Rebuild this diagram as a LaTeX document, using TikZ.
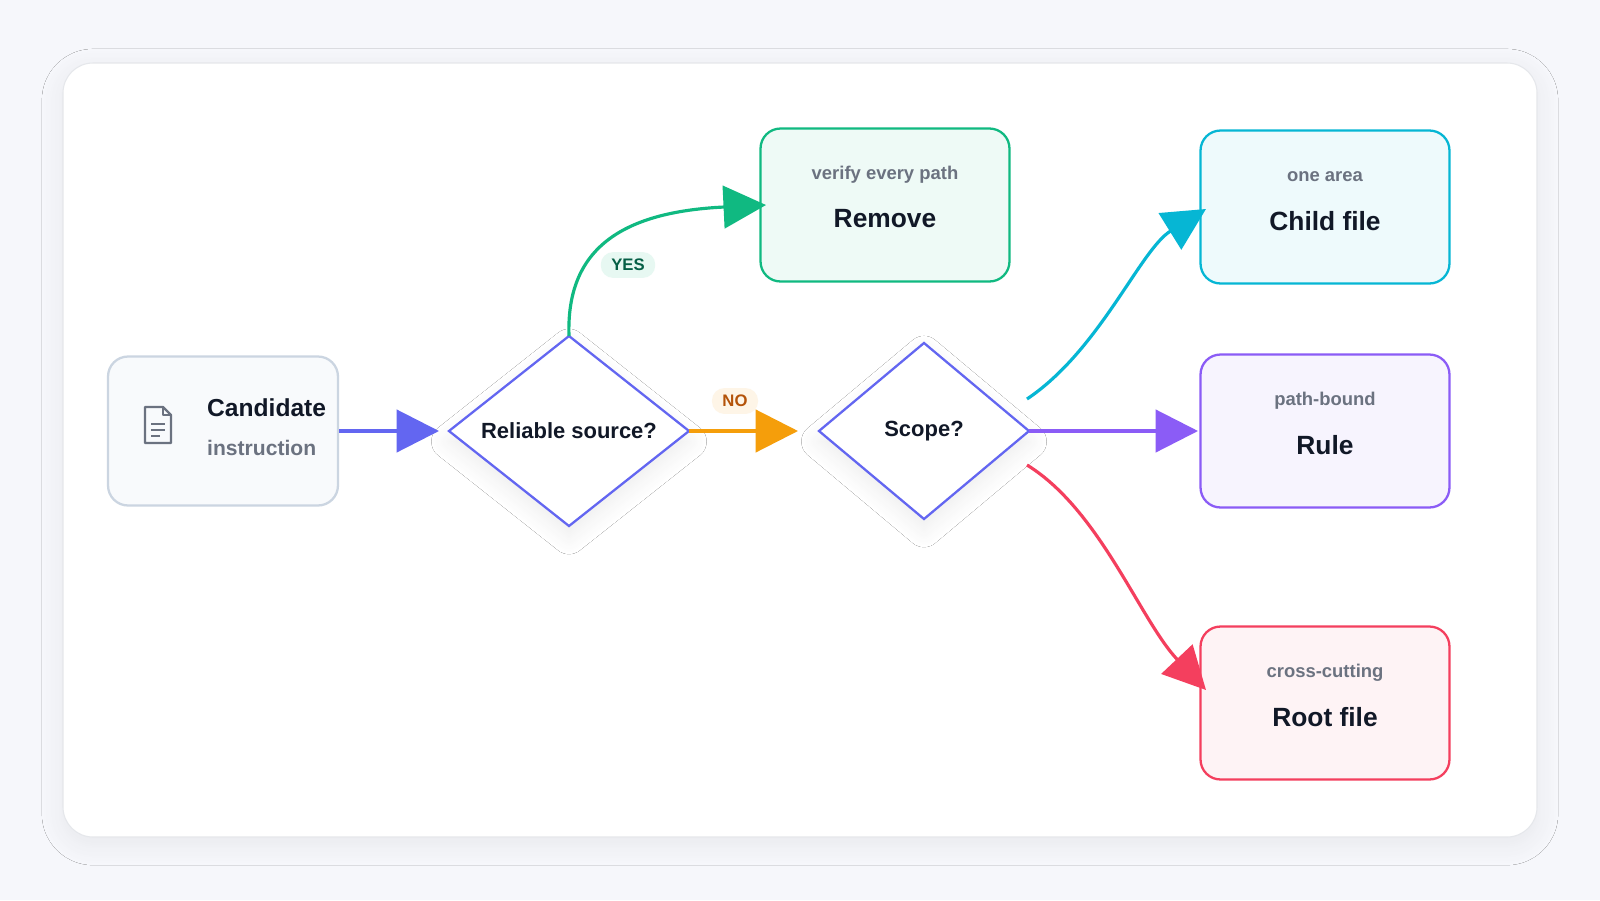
\documentclass[tikz,border=0pt]{standalone}
\usepackage{fontspec}
\setmainfont{Liberation Sans}
\usetikzlibrary{arrows.meta,shapes.geometric,shadows.blur}
\definecolor{ind}{HTML}{6366F1}
\definecolor{grn}{HTML}{10B981}
\definecolor{amb}{HTML}{F59E0B}
\definecolor{cya}{HTML}{06B6D4}
\definecolor{pur}{HTML}{8B5CF6}
\definecolor{ros}{HTML}{F43F5E}
\definecolor{sub}{HTML}{6B7280}
\definecolor{ttl}{HTML}{111827}
\definecolor{bg}{HTML}{F6F7FB}
\definecolor{edge}{HTML}{E5E7EB}
\definecolor{slb}{HTML}{CBD5E1}
\definecolor{slf}{HTML}{F8FAFC}
\definecolor{yest}{HTML}{065F46}
\definecolor{not}{HTML}{B45309}
\begin{document}
\begin{tikzpicture}[x=0.02cm,y=-0.02cm,
  box/.style={draw,rounded corners=0.4cm,line width=1.3pt,minimum width=4.98cm,minimum height=3.06cm,align=center,inner sep=0pt},
  dia/.style={draw=ind,line width=1.3pt,fill=white,line join=miter,blur shadow={shadow blur steps=12,shadow blur radius=10pt,shadow xshift=0pt,shadow yshift=-6pt,shadow opacity=7}},
  dtxt/.style={font=\bfseries\fontsize{12.5}{14}\selectfont,text=ttl},
  arr/.style={line width=1.8pt,-{Triangle[length=0.85cm,width=0.85cm]}},
  sb/.style={font=\bfseries\fontsize{10.5}{12}\selectfont,text=sub},
  tt/.style={font=\bfseries\fontsize{15}{17}\selectfont,text=ttl},
  pill/.style={rounded corners=0.25cm,inner xsep=6pt,inner ysep=4pt,font=\bfseries\fontsize{9.5}{11}\selectfont}]
\useasboundingbox (0,0) rectangle (1600,900);
\fill[bg] (0,0) rectangle (1600,900);
\fill[white,rounded corners=0.6cm,blur shadow={shadow blur steps=12,shadow blur radius=12pt,shadow xshift=0pt,shadow yshift=-4pt,shadow opacity=6}] (63,63) rectangle (1537,837);
\draw[edge,rounded corners=0.6cm,line width=0.6pt] (63,63) rectangle (1537,837);
% candidate
\node[box,draw=slb,fill=slf,minimum width=4.6cm,minimum height=2.98cm] (cand) at (223,431) {};
\node[tt,font=\bfseries\fontsize{14}{16}\selectfont,anchor=west] (c1) at (201,408) {Candidate};
\node[sb,font=\bfseries\fontsize{12}{14}\selectfont,anchor=west] (c2) at (201,448) {instruction};
\begin{scope}[draw=sub,line width=1.3pt,line join=round]
\draw (145,407) -- (163,407) -- (171,415) -- (171,443) -- (145,443) -- cycle;
\draw (163,407) -- (163,415) -- (171,415);
\draw (151,424)--(165,424) (151,430)--(165,430) (151,436)--(160,436);
\end{scope}
% diamonds
\coordinate (d1n) at (569,336); \coordinate (d1e) at (689,431);
\coordinate (d1s) at (569,526); \coordinate (d1w) at (449,431);
\draw[dia] (d1n) -- (d1e) -- (d1s) -- (d1w) -- cycle;
\node[dtxt] (d1) at (569,431) {Reliable source?};
\coordinate (d2n) at (924,343); \coordinate (d2e) at (1029,431);
\coordinate (d2s) at (924,519); \coordinate (d2w) at (819,431);
\draw[dia] (d2n) -- (d2e) -- (d2s) -- (d2w) -- cycle;
\node[dtxt] (d2) at (924,431) {Scope?};
% boxes
\node[box,draw=grn,fill=grn!7] (rem) at (885,205) {};
\node[sb] (r1) at (885,175) {verify every path};
\node[tt] (r2) at (885,219) {Remove};
\node[box,draw=cya,fill=cya!7] (chi) at (1325,207) {};
\node[sb] (h1) at (1325,177) {one area};
\node[tt] (h2) at (1325,221) {Child file};
\node[box,draw=pur,fill=pur!7] (rul) at (1325,431) {};
\node[sb] (u1) at (1325,401) {path-bound};
\node[tt] (u2) at (1325,445) {Rule};
\node[box,draw=ros,fill=ros!6] (roo) at (1325,703) {};
\node[sb] (o1) at (1325,673) {cross-cutting};
\node[tt] (o2) at (1325,717) {Root file};
% connectors
\coordinate (a1) at (439,431);
\draw[arr,ind] (cand.east) -- (a1);
\coordinate (a2) at (766,205);
\draw[arr,grn] (d1n) .. controls (566,250) and (620,212) .. (a2);
\node[pill,fill=grn!10,text=yest] (yes) at (628,265) {YES};
\coordinate (a3) at (798,431);
\draw[arr,amb] (d1e) -- (a3);
\node[pill,fill=amb!10,text=not] (no) at (735,401) {NO};
\coordinate (s1) at (1027,399);
\coordinate (a4) at (1206,209);
\draw[arr,cya] (s1) .. controls (1100,350) and (1140,250) .. (a4);
\coordinate (a5) at (1198,431);
\draw[arr,pur] (d2e) -- (a5);
\coordinate (s2) at (1027,465);
\coordinate (a6) at (1206,690);
\draw[arr,ros] (s2) .. controls (1100,510) and (1140,620) .. (a6);
\end{tikzpicture}
\end{document}
